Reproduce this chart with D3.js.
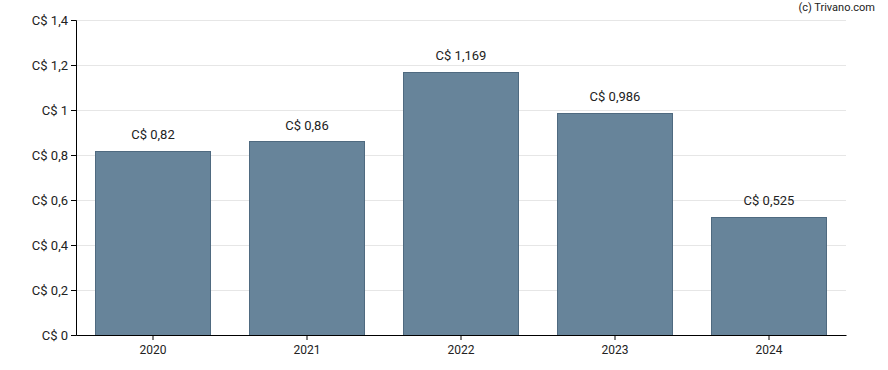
<!DOCTYPE html>
<html>
<head>
<meta charset="utf-8">
<script src="https://cdn.jsdelivr.net/npm/d3@7"></script>
<style>
  body { margin: 0; background: #fff; }
  text { font-family: Roboto, "Noto Sans", sans-serif; }
</style>
</head>
<body>
<div id="chart"></div>
<script>
// data
var years = ["2020", "2021", "2022", "2023", "2024"];
var values = [0.82, 0.86, 1.169, 0.986, 0.525];
var yTicks = [0, 0.2, 0.4, 0.6, 0.8, 1, 1.2, 1.4];

var width = 888, height = 370;
var margin = {top: 20, right: 42, bottom: 35, left: 76};

function fmt(v) {
  return "C$ " + String(v).replace(".", ",");
}

var svg = d3.select("#chart").append("svg")
  .attr("width", width).attr("height", height);

var x = d3.scaleBand().domain(years)
  .range([margin.left, width - margin.right])
  .paddingInner(0.253).paddingOuter(0.1265);

var y = d3.scaleLinear().domain([0, 1.4])
  .range([height - margin.bottom, margin.top]);

// gridlines
svg.append("g").selectAll("line")
  .data(yTicks.slice(1))
  .enter().append("line")
  .attr("x1", margin.left).attr("x2", width - margin.right)
  .attr("y1", function(d){ return Math.round(y(d)) + 0.5; })
  .attr("y2", function(d){ return Math.round(y(d)) + 0.5; })
  .attr("stroke", "#e6e6e6").attr("stroke-width", 1);

// bars
svg.append("g").selectAll("rect")
  .data(values)
  .enter().append("rect")
  .attr("x", function(d, i){ return Math.round(x(years[i])) + 0.5; })
  .attr("y", function(d){ return Math.round(y(d)) + 0.5; })
  .attr("width", Math.round(x.bandwidth()))
  .attr("height", function(d){ return Math.round(y(0)) - Math.round(y(d)); })
  .attr("fill", "#67849a")
  .attr("stroke", "#4f6a80").attr("stroke-width", 1);

// value labels
svg.append("g").selectAll("text")
  .data(values)
  .enter().append("text")
  .attr("x", function(d, i){ return x(years[i]) + x.bandwidth() / 2; })
  .attr("y", function(d){ return y(d) - 12; })
  .attr("text-anchor", "middle")
  .attr("font-size", 13)
  .attr("fill", "#222")
  .text(fmt);

// y axis
var yAxis = svg.append("g")
  .attr("transform", "translate(" + margin.left + ",0)")
  .call(d3.axisLeft(y).tickValues(yTicks).tickSize(5).tickFormat(fmt));
yAxis.selectAll("text").attr("font-size", 13).attr("fill", "#222")
  .attr("font-family", "Roboto, sans-serif");
yAxis.selectAll("line, path").attr("stroke", "#000");

// x axis
var xAxis = svg.append("g")
  .attr("transform", "translate(0," + (height - margin.bottom) + ")")
  .call(d3.axisBottom(x).tickSize(5).tickSizeOuter(0));
xAxis.selectAll("text").attr("font-size", 12).attr("fill", "#222")
  .attr("font-family", "Roboto, sans-serif").attr("dy", "0.95em");
xAxis.selectAll("line, path").attr("stroke", "#000");

// credit
svg.append("text")
  .attr("x", width - 13).attr("y", 11)
  .attr("text-anchor", "end")
  .attr("font-size", 11).attr("fill", "#222")
  .text("(c) Trivano.com");
</script>
</body>
</html>
